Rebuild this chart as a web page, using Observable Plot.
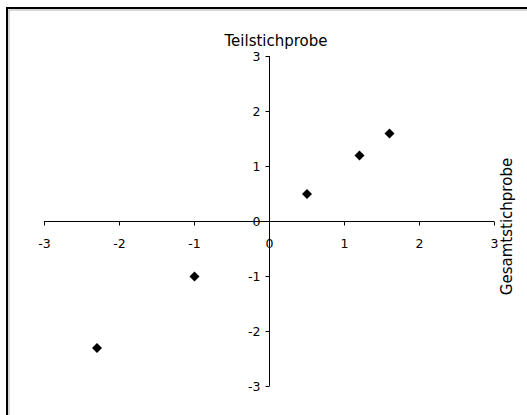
<!DOCTYPE html>
<html>
<head>
<meta charset="utf-8">
<script src="https://cdn.jsdelivr.net/npm/d3@7"></script>
<script src="https://cdn.jsdelivr.net/npm/@observablehq/plot@0.6"></script>
<style>
  html, body { margin: 0; padding: 0; background: #fff; }
</style>
</head>
<body>
<div id="chart"></div>
<script>
const xValues = [-2.3, -1, 0.5, 1.2, 1.6];
const yValues = [-2.3, -1, 0.5, 1.2, 1.6];
const xTicks = [-3, -2, -1, 0, 1, 2, 3];
const yTicks = [-3, -2, -1, 0, 1, 2, 3];
const titleText = "Teilstichprobe";
const yTitleText = "Gesamtstichprobe";

const points = xValues.map((x, i) => ({x, y: yValues[i]}));

// tick glyphs: short line below (x axis) or left (y axis) of the anchor
const tickDown = {draw(ctx) { ctx.moveTo(0, 0); ctx.lineTo(0, 4); }};
const tickLeft = {draw(ctx) { ctx.moveTo(0, 0); ctx.lineTo(-4, 0); }};

const chart = Plot.plot({
  width: 527,
  height: 415,
  marginLeft: 44,
  marginRight: 33,
  marginTop: 56,
  marginBottom: 29,
  style: {fontFamily: "DejaVu Sans", fontSize: "12.5px", background: "#fff", color: "#000"},
  x: {domain: [-3, 3], axis: null},
  y: {domain: [-3, 3], axis: null},
  marks: [
    Plot.frame({insetLeft: -37.5, insetTop: -48.5, insetRight: -45, insetBottom: -45, stroke: "#000", strokeWidth: 2}),
    Plot.frame({insetLeft: -35.5, insetTop: -46.5, insetRight: -45, insetBottom: -45, stroke: "#b0b0b0", strokeWidth: 1}),
    Plot.ruleY([0], {x1: -3, x2: 3, stroke: "#000"}),
    Plot.ruleX([0], {y1: -3, y2: 3, stroke: "#000"}),
    Plot.dot(xTicks, {x: d => d, y: 0, symbol: tickDown, r: 2, stroke: "#000", fill: "none", strokeWidth: 1}),
    Plot.dot(yTicks, {x: 0, y: d => d, symbol: tickLeft, r: 2, stroke: "#000", fill: "none", strokeWidth: 1}),
    Plot.text(xTicks, {x: d => d, y: 0, text: d => String(d), dy: 22, fontSize: 12.5}),
    Plot.text(yTicks, {x: 0, y: d => d, text: d => String(d), textAnchor: "end", dx: -9, fontSize: 12.5}),
    Plot.text([titleText], {frameAnchor: "top", text: d => d, textAnchor: "middle", lineAnchor: "middle", dx: 6.5, dy: -15, fontSize: 15}),
    Plot.text([yTitleText], {frameAnchor: "right", text: d => d, rotate: -90, textAnchor: "middle", lineAnchor: "middle", dx: 12.5, dy: 5, fontSize: 15}),
    Plot.dot(points, {x: "x", y: "y", symbol: "diamond2", r: 4.5, fill: "#000", stroke: "none"})
  ]
});
document.getElementById("chart").appendChild(chart);
</script>
</body>
</html>
